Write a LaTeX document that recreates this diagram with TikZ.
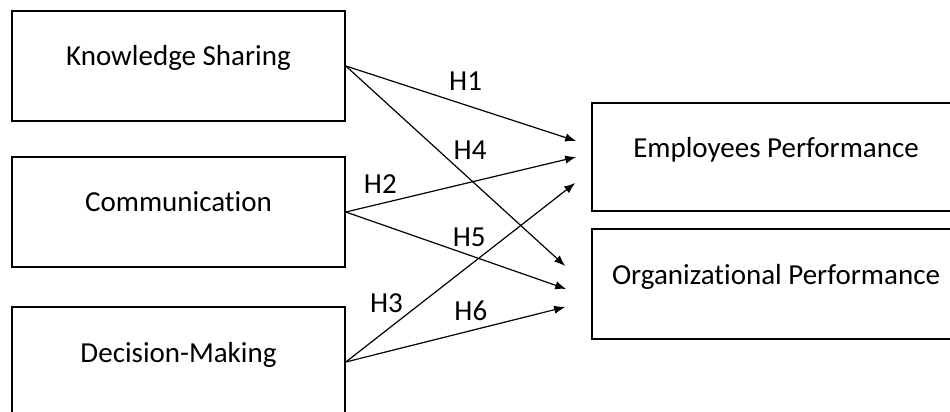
\documentclass[tikz,border=0pt]{standalone}
\usepackage{fontspec}
\setmainfont{Carlito}[Ligatures=NoCommon]
\usetikzlibrary{arrows.meta, positioning}

\begin{document}
\begin{tikzpicture}[node distance=17.2pt,
    box/.style={draw, line width=0.8pt, minimum width=166.5pt, minimum height=55pt, text height=7pt, text depth=7pt, inner sep=0pt, font=\fontsize{14.5pt}{17pt}\selectfont},
    hyp/.style={-{Latex[length=5.5pt, width=4.2pt]}, line width=0.6pt},
    lbl/.style={font=\fontsize{14.5pt}{17pt}\selectfont, inner sep=1pt}]

    % Frame
    \useasboundingbox (0,0) rectangle (475pt,-206pt);
    \clip (0,0) rectangle (475pt,-206pt);

    % Predictors
    \node[box] (ks) at (89.25pt,-33pt) {Knowledge Sharing};
    \node[box, below=of ks] (comm) {Communication};
    \node[box, below=19.2pt of comm] (dm) {Decision-Making};

    % Outcomes
    \node[box, minimum width=184pt, minimum height=54pt] (ep) at (388pt,-78.5pt) {Employees Performance};
    \node[box, minimum width=184pt, below=8.2pt of ep] (op) {Organizational Performance};

    % Arrow ends
    \coordinate[above left=8pt and 7.5pt of ep.west] (e1);
    \coordinate[left=7.5pt of ep.west] (e2);
    \coordinate[below left=13pt and 8pt of ep.west] (e3);
    \coordinate[above left=9pt and 13pt of op.west] (e4);
    \coordinate[below left=2.5pt and 12.5pt of op.west] (e5);
    \coordinate[below left=11.5pt and 13pt of op.west] (e6);

    % Hypotheses
    \draw[hyp] (ks.east) -- node[lbl, pos=0.52, above=6pt] {H1} (e1);
    \draw[hyp] (ks.east) -- node[lbl, pos=0.48, above right] {H4} (e4);
    \draw[hyp] (comm.east) -- node[lbl, pos=0.15, above=4pt] {H2} (e2);
    \draw[hyp] (comm.east) -- node[lbl, pos=0.56, above=3pt] {H5} (e5);
    \draw[hyp] (dm.east) -- node[lbl, pos=0.26, above left] {H3} (e3);
    \draw[hyp] (dm.east) -- node[lbl, pos=0.57, above=3.5pt] {H6} (e6);

\end{tikzpicture}
\end{document}
